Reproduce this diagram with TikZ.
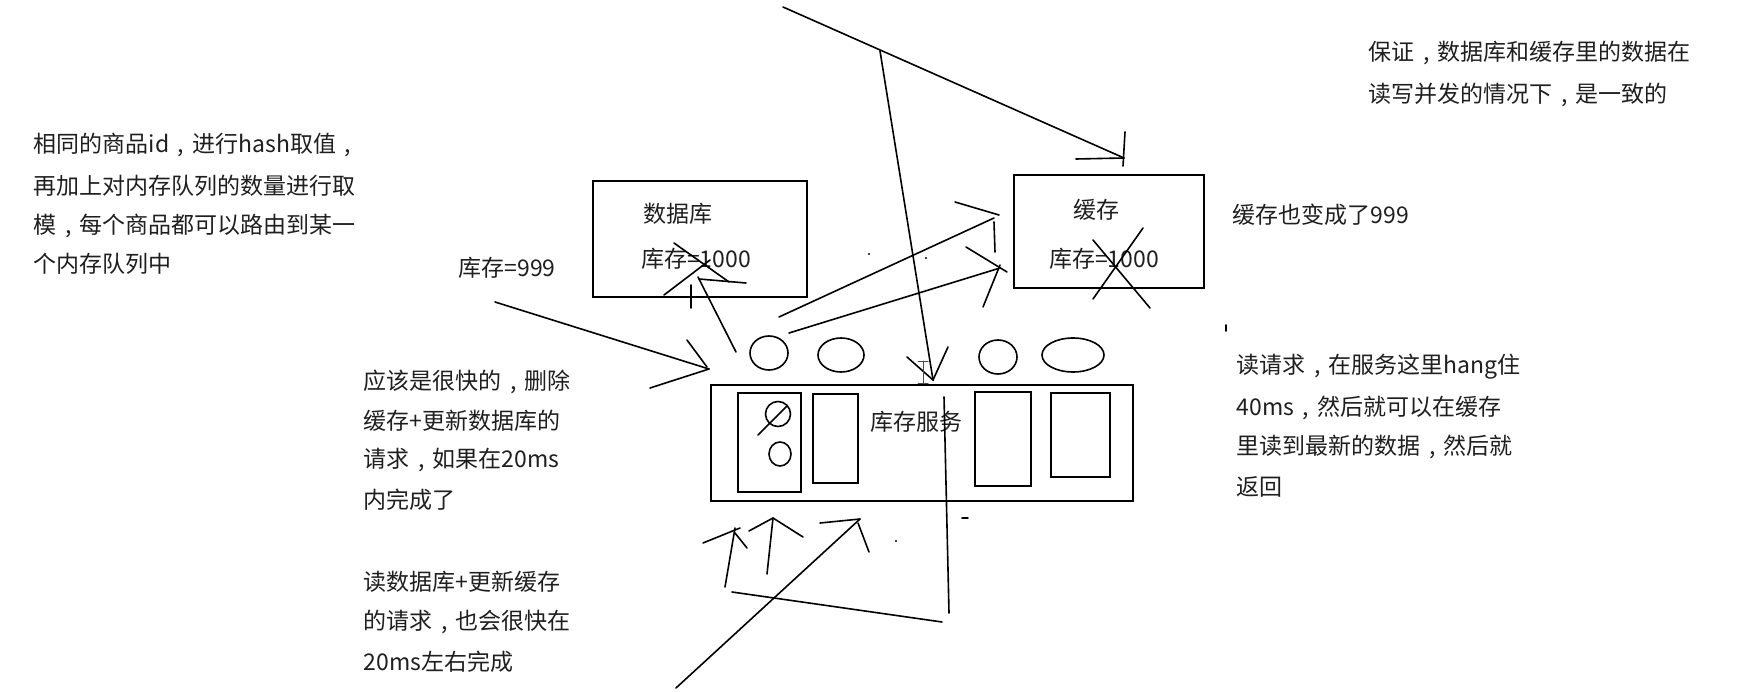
\documentclass[tikz,border=0pt]{standalone}
\usepackage{fontspec}
\setmainfont{Noto Sans CJK SC}
\usetikzlibrary{shapes.geometric}
\newcommand\zcomma{\makebox[1em]{,}}
\begin{document}
\begin{tikzpicture}[x=1pt,y=-1pt, line width=1.7pt, line cap=round,
  txt/.style={font=\fontsize{23}{28}\selectfont, inner sep=0pt, anchor=west, text=black!88},
  ctxt/.style={font=\fontsize{23}{28}\selectfont, inner sep=0pt, text=black!88},
  box/.style={draw, line width=1.8pt, inner sep=0pt},
  oval/.style={draw, ellipse, line width=1.6pt, inner sep=0pt},
  stroke/.style={line width=1.6pt}]
\fill[white] (0,0) rectangle (1752,692);
\useasboundingbox (0,0) rectangle (1752,692);

% boxes
\node[box, minimum width=214pt, minimum height=116pt] (db) at (700,239) {};
\node[box, minimum width=190pt, minimum height=113pt] (cache) at (1109,231.5) {};
\node[box, minimum width=422pt, minimum height=116pt] (svc) at (922,443) {};
\node[box, minimum width=63pt, minimum height=99pt] (r1) at (769.5,442.5) {};
\node[box, minimum width=45pt, minimum height=89pt] (r2) at (835.5,438.5) {};
\node[box, minimum width=56pt, minimum height=94pt] (r3) at (1003,439) {};
\node[box, minimum width=59pt, minimum height=84pt] (r4) at (1080.5,435) {};

% circles inside first queue
\node[oval, minimum width=25pt, minimum height=25pt] (c1) at (778,414) {};
\node[oval, minimum width=22pt, minimum height=24pt] (c2) at (780,454) {};
\coordinate (c1a) at (758,435); \coordinate (c1b) at (787,406);
\draw[stroke] (c1a) -- (c1b);

% ovals above service
\node[oval, minimum width=38pt, minimum height=34pt] (q1) at (769,353) {};
\node[oval, minimum width=46pt, minimum height=34pt] (q2) at (841,355) {};
\node[oval, minimum width=38pt, minimum height=34pt] (q3) at (998,357) {};
\node[oval, minimum width=62pt, minimum height=34pt] (q4) at (1073,355) {};

% texts in boxes
\node[ctxt] (dbt) at (678,214) {数据库};
\node[ctxt] (dbv) at (696,259) {库存=1000};
\node[ctxt] (cat) at (1096,210) {缓存};
\node[ctxt] (cav) at (1104,259) {库存=1000};
\node[ctxt] (svct) at (916,422) {库存服务};

% free texts
\node[txt] (t1a) at (1368,53) {保证\zcomma 数据库和缓存里的数据在};
\node[txt] (t1b) at (1368,95) {读写并发的情况下\zcomma 是一致的};
\node[txt] (t2a) at (33,145) {相同的商品id\zcomma 进行hash取值\zcomma};
\node[txt] (t2b) at (33,186) {再加上对内存队列的数量进行取};
\node[txt] (t2c) at (33,226) {模\zcomma 每个商品都可以路由到某一};
\node[txt] (t2d) at (33,264) {个内存队列中};
\node[ctxt] (t3) at (507,268) {库存=999};
\node[txt] (t4) at (1232,215) {缓存也变成了999};
\node[txt] (t5a) at (363,382) {应该是很快的\zcomma 删除};
\node[txt] (t5b) at (363,421) {缓存+更新数据库的};
\node[txt] (t5c) at (363,460) {请求\zcomma 如果在20ms};
\node[txt] (t5d) at (363,500) {内完成了};
\node[txt] (t6a) at (363,582) {读数据库+更新缓存};
\node[txt] (t6b) at (363,622) {的请求\zcomma 也会很快在};
\node[txt] (t6c) at (363,662) {20ms左右完成};
\node[txt] (t7a) at (1236,367) {读请求\zcomma 在服务这里hang住};
\node[txt] (t7b) at (1236,408) {40ms\zcomma 然后就可以在缓存};
\node[txt] (t7c) at (1236,447) {里读到最新的数据\zcomma 然后就};
\node[txt] (t7d) at (1236,487) {返回};

% coordinates of hand-drawn strokes
\coordinate (p1s) at (783,7);    \coordinate (p1e) at (1124,158);
\coordinate (p1h1) at (1076,159); \coordinate (p1h2) at (1125,132); \coordinate (p1h3) at (1123,166);
\coordinate (p2s) at (880,51);   \coordinate (p2e) at (933,380);
\coordinate (p2h1) at (907,357); \coordinate (p2h2) at (948,347);
\coordinate (p3s) at (736,352);  \coordinate (p3e) at (698,277);
\coordinate (p3a) at (664,295);  \coordinate (p3b) at (710,260);
\coordinate (p3c) at (674,243);  \coordinate (p3d) at (729,282);
\coordinate (p3f) at (699,279);  \coordinate (p3g) at (746,283);
\coordinate (p3h) at (691,285);  \coordinate (p3i) at (691,308);
\coordinate (p4s) at (779,317);  \coordinate (p4e) at (994,218);
\coordinate (p4a) at (955,202);  \coordinate (p4b) at (999,215);
\coordinate (p4c) at (994,222);  \coordinate (p4d) at (995,252);
\coordinate (p5s) at (789,333);  \coordinate (p5e) at (1000,268);
\coordinate (p5a) at (966,247);  \coordinate (p5b) at (1007,272);
\coordinate (p5c) at (983,307);  \coordinate (p5d) at (1000,265);
\coordinate (x1a) at (1093,240); \coordinate (x1b) at (1150,308);
\coordinate (x2a) at (1143,228); \coordinate (x2b) at (1093,299);
\coordinate (p6s) at (495,302);  \coordinate (p6e) at (709,369);
\coordinate (p6a) at (687,340);  \coordinate (p6b) at (707,367);
\coordinate (p6c) at (650,388);
\coordinate (v1) at (944,397);   \coordinate (v2) at (949,613);
\coordinate (b1) at (732,592);   \coordinate (b2) at (942,622);
\coordinate (a1s) at (725,587);  \coordinate (a1e) at (735,528);
\coordinate (a1a) at (703,543);  \coordinate (a1b) at (740,528);
\coordinate (a1c) at (735,533);  \coordinate (a1d) at (747,548);
\coordinate (a2s) at (767,574);  \coordinate (a2e) at (773,518);
\coordinate (a2a) at (749,531);  \coordinate (a2b) at (803,537);
\coordinate (a3s) at (676,688);  \coordinate (a3e) at (860,519);
\coordinate (a3a) at (820,523);  \coordinate (a3b) at (858,523);
\coordinate (a3c) at (869,552);

% strokes
\draw[stroke] (p1s) -- (p1e);
\draw[stroke] (p1h1) -- (p1e);
\draw[stroke] (p1h2) -- (p1h3);
\draw[stroke] (p2s) -- (p2e);
\draw[stroke] (p2h1) -- (p2e) -- (p2h2);
\draw[stroke] (p3s) -- (p3e);
\draw[stroke] (p3a) -- (p3b);
\draw[stroke] (p3c) -- (p3d);
\draw[stroke] (p3f) -- (p3g);
\draw[stroke] (p3h) -- (p3i);
\draw[stroke] (p4s) -- (p4e);
\draw[stroke] (p4a) -- (p4b);
\draw[stroke] (p4c) -- (p4d);
\draw[stroke] (p5s) -- (p5e);
\draw[stroke] (p5a) -- (p5b);
\draw[stroke] (p5c) -- (p5d);
\draw[stroke] (x1a) -- (x1b);
\draw[stroke] (x2a) -- (x2b);
\draw[stroke] (p6s) -- (p6e);
\draw[stroke] (p6a) -- (p6b);
\draw[stroke] (p6c) -- (p6e);
\draw[stroke] (v1) -- (v2);
\draw[stroke] (b1) -- (b2);
\draw[stroke] (a1s) -- (a1e);
\draw[stroke] (a1a) -- (a1b);
\draw[stroke] (a1c) -- (a1d);
\draw[stroke] (a2s) -- (a2e);
\draw[stroke] (a2a) -- (a2e) -- (a2b);
\draw[stroke] (a3s) -- (a3e);
\draw[stroke] (a3a) -- (a3e);
\draw[stroke] (a3b) -- (a3c);

% specks
\coordinate (d1) at (869,254); \coordinate (d2) at (926,258); \coordinate (d3) at (896,541);
\fill (d1) circle (1.2pt); \fill (d2) circle (1.2pt); \fill (d3) circle (1.2pt);
\coordinate (k1) at (962,518); \coordinate (k2) at (968,518);
\draw[stroke] (k1) -- (k2);
\coordinate (k3) at (1226,325); \coordinate (k4) at (1226,331);
\draw[stroke] (k3) -- (k4);

% text cursor (I-beam)
\coordinate (i1) at (923,361); \coordinate (i2) at (923,383);
\draw[line width=1pt, black!70] (i1) -- (i2);
\draw[line width=1pt, black!70] (918,361) -- (928,361);
\draw[line width=1pt, black!70] (918,383) -- (928,383);
\end{tikzpicture}
\end{document}
